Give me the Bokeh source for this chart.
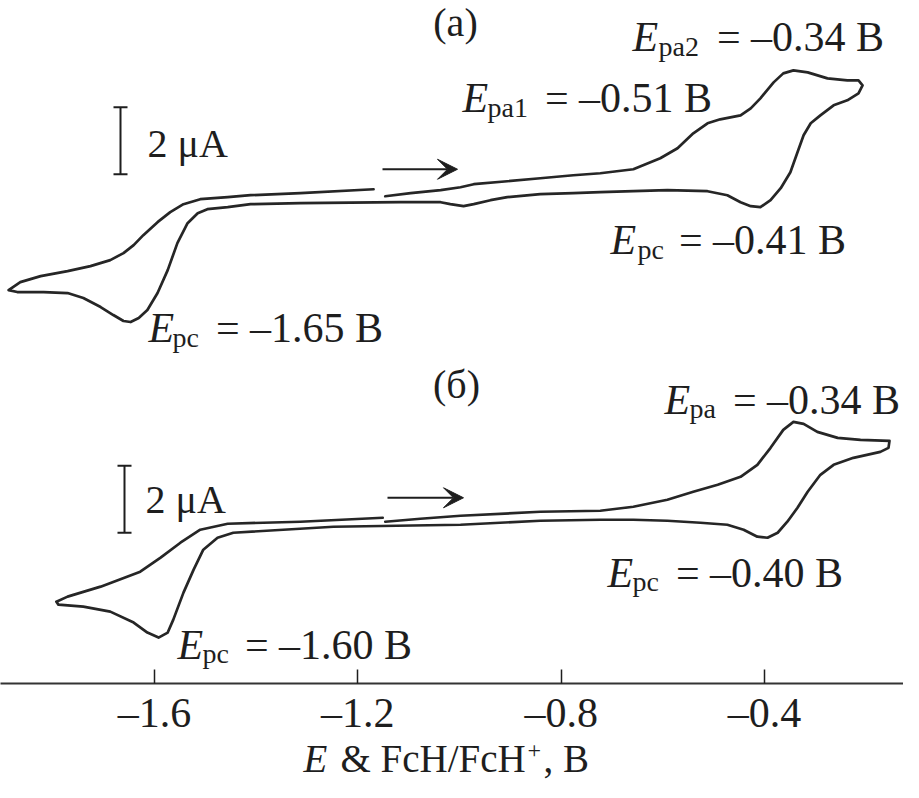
from bokeh.plotting import figure
from bokeh.models import Label, Arrow, VeeHead, FixedTicker, Range1d
from bokeh.layouts import column
from bokeh.embed import file_html
from bokeh.resources import INLINE

# ---------------- data ----------------
# curve (а): potential, V vs FcH/FcH+, and current, µA (relative to its own baseline)
E_A = [-1.146, -1.096, -1.037, -0.998, -0.972, -0.906, -0.841, -0.776, -0.723, -0.658,
       -0.605, -0.571, -0.540, -0.512, -0.487, -0.447, -0.427, -0.408, -0.382, -0.363,
       -0.343, -0.315, -0.276, -0.237, -0.215, -0.207, -0.215, -0.237, -0.264, -0.290,
       -0.309, -0.323, -0.335, -0.349, -0.368, -0.388, -0.408, -0.427, -0.447, -0.473,
       -0.512, -0.591, -0.658, -0.723, -0.776, -0.841, -0.906, -0.939, -0.972, -0.992,
       -1.018, -1.037, -1.116, -1.313, -1.411, -1.456, -1.496, -1.515, -1.535, -1.555,
       -1.574, -1.594, -1.614, -1.631, -1.647, -1.661, -1.681, -1.706, -1.740, -1.771,
       -1.818, -1.870, -1.887, -1.864, -1.824, -1.771, -1.726, -1.687, -1.661, -1.641,
       -1.622, -1.594, -1.569, -1.543, -1.510, -1.456, -1.411, -1.313, -1.169]
I_A = [0.119, 0.209, 0.299, 0.388, 0.478, 0.567, 0.657, 0.746, 0.806, 0.925,
       1.254, 1.552, 2.000, 2.299, 2.418, 2.537, 2.746, 3.045, 3.522, 3.791,
       3.881, 3.821, 3.642, 3.582, 3.582, 3.433, 3.194, 2.985, 2.836, 2.537,
       2.299, 1.940, 1.433, 0.836, 0.358, 0.0, -0.209, -0.179, -0.060, 0.149,
       0.269, 0.299, 0.269, 0.239, 0.209, 0.179, 0.090, 0.0, -0.119, -0.179,
       -0.119, -0.060, -0.060, -0.090, -0.119, -0.209, -0.269, -0.388, -0.687, -1.284,
       -2.090, -2.776, -3.284, -3.522, -3.642, -3.612, -3.433, -3.194, -2.925, -2.776,
       -2.746, -2.746, -2.687, -2.448, -2.269, -2.119, -1.970, -1.791, -1.582, -1.343,
       -1.045, -0.657, -0.358, -0.119, 0.030, 0.090, 0.149, 0.209, 0.328]

# curve (б)
E_B = [-1.146, -1.077, -0.998, -0.841, -0.723, -0.658, -0.591, -0.540, -0.492, -0.447,
       -0.414, -0.388, -0.363, -0.343, -0.323, -0.296, -0.256, -0.211, -0.154, -0.156,
       -0.172, -0.225, -0.264, -0.290, -0.315, -0.335, -0.355, -0.374, -0.394, -0.414,
       -0.441, -0.473, -0.526, -0.591, -0.658, -0.723, -0.841, -0.998, -1.248, -1.445,
       -1.476, -1.504, -1.523, -1.543, -1.563, -1.574, -1.592, -1.614, -1.641, -1.687,
       -1.740, -1.789, -1.793, -1.771, -1.706, -1.628, -1.588, -1.549, -1.510, -1.456,
       -1.313, -1.151]
I_B = [0.090, 0.179, 0.269, 0.388, 0.418, 0.537, 0.746, 0.985, 1.194, 1.433,
       1.791, 2.299, 2.836, 3.075, 3.015, 2.776, 2.597, 2.537, 2.507, 2.299,
       2.179, 2.000, 1.791, 1.493, 0.985, 0.507, 0.090, -0.239, -0.388, -0.358,
       -0.149, 0.0, 0.060, 0.119, 0.149, 0.149, 0.119, 0.0, -0.060, -0.239,
       -0.388, -0.746, -1.343, -2.030, -2.836, -3.224, -3.373, -3.224, -2.925, -2.597,
       -2.448, -2.388, -2.299, -2.149, -1.851, -1.403, -0.985, -0.537, -0.149, 0.030,
       0.090, 0.209]

OFFSET_A = 14.448   # vertical shift of trace (а), µA
OFFSET_B = 4.746    # vertical shift of trace (б), µA
SCALE_UA = 2.0      # scale bar, µA

TICKS = [-1.6, -1.2, -0.8, -0.4]
TICK_LABELS = ["–1.6", "–1.2", "–0.8", "–0.4"]

PEAK_TEXTS = [("pa2", "= –0.34 В"), ("pa1", "= –0.51 В"), ("pc", "= –0.41 В"),
              ("pc", "= –1.65 В"), ("pa", "= –0.34 В"), ("pc", "= –0.40 В"),
              ("pc", "= –1.60 В")]

# ---------------- layout ----------------
FONT = "Liberation Serif"
INK = "#1e1e1e"
W = 903
H_MAIN = 738
H_TITLE = 44
PX_PER_V = 508.3
PX_PER_UA = 33.5
AXIS_PX = 684.0
LABEL_DY = 15   # compensation: labels render this many px below their anchor


def xd(px):
    return -1.6 + (px - 154.0) / PX_PER_V


def yd(py):
    return (AXIS_PX - py) / PX_PER_UA


def yl(py):
    return yd(py - LABEL_DY)


p = figure(width=W, height=H_MAIN, output_backend="svg", toolbar_location=None,
           x_range=Range1d(xd(0), xd(W)), y_range=Range1d(0, yd(0)),
           y_axis_location=None, min_border_left=0, min_border_right=0,
           min_border_top=0, min_border_bottom=int(H_MAIN - AXIS_PX))
p.title = None
p.background_fill_color = "white"
p.border_fill_color = "white"
p.outline_line_color = None
p.xgrid.visible = False
p.ygrid.visible = False

ax = p.xaxis[0]
ax.ticker = FixedTicker(ticks=TICKS)
ax.major_label_overrides = dict(zip(TICKS, TICK_LABELS))
ax.minor_tick_line_color = None
ax.major_tick_in = 14
ax.major_tick_out = 0
ax.major_tick_line_width = 1.5
ax.major_tick_line_color = INK
ax.axis_line_width = 2
ax.axis_line_color = "#333333"
ax.major_label_text_font = FONT
ax.major_label_text_font_size = "42px"
ax.major_label_text_color = INK
ax.major_label_standoff = 6

# curves
p.line(E_A, [i + OFFSET_A for i in I_A], line_color="#262626",
       line_width=2.7, line_join="round", line_cap="round")
p.line(E_B, [i + OFFSET_B for i in I_B], line_color="#262626",
       line_width=2.7, line_join="round", line_cap="round")

# scale bars (2 µA)
for sx, sy_bottom in [(120, 174), (124, 533)]:
    x0 = xd(sx)
    y0 = yd(sy_bottom)
    hw = 7.0 / PX_PER_V
    p.segment(x0=[x0, x0 - hw, x0 - hw], y0=[y0, y0, y0 + SCALE_UA],
              x1=[x0, x0 + hw, x0 + hw], y1=[y0 + SCALE_UA, y0, y0 + SCALE_UA],
              line_color=INK, line_width=2)

# scan direction arrows
for xs, xe, yy in [(382, 457, 169), (387, 463, 498)]:
    p.add_layout(Arrow(end=VeeHead(size=20, fill_color=INK, line_color=INK),
                       x_start=xd(xs), y_start=yd(yy), x_end=xd(xe), y_end=yd(yy),
                       line_color=INK, line_width=2))


def lab(fig, px, y, text, size, style="normal", align="left"):
    fig.add_layout(Label(x=xd(px), y=y, text=text, text_font=FONT,
                         text_font_size=size, text_font_style=style,
                         text_color=INK, text_align=align,
                         text_baseline="alphabetic"))


# panel letters and scale texts
lab(p, 455, yl(37), "(а)", "40px", align="center")
lab(p, 456, yl(400), "(б)", "40px", align="center")
lab(p, 147, yl(158), "2 μA", "40px")
lab(p, 145, yl(515), "2 μA", "40px")

# peak annotations: (E left px, baseline px, sub left px, rest centre px)
PEAK_POS = [(632, 52, 658, 800), (462, 113, 487, 628), (610, 255, 637, 762),
            (148, 343, 172, 299), (664, 415, 689, 816), (607, 588, 632, 759),
            (177, 660, 202, 328)]
for (ex, by, subx, rc), (sub, rest) in zip(PEAK_POS, PEAK_TEXTS):
    lab(p, ex, yl(by), "E", "42px", style="italic")
    lab(p, subx, yl(by + 9), sub, "28px")
    lab(p, rc, yl(by), rest, "42px", align="center")

# axis title strip: E & FcH/FcH+, В
t = figure(width=W, height=H_TITLE, output_backend="svg", toolbar_location=None,
           x_range=p.x_range, y_range=Range1d(0, H_TITLE),
           x_axis_location=None, y_axis_location=None, min_border=0)
t.title = None
t.outline_line_color = None
t.background_fill_color = "white"
t.border_fill_color = "white"
t.grid.visible = False
TOTAL_H = H_MAIN + H_TITLE
base = TOTAL_H - 773 + LABEL_DY
lab(t, 303, base, "E", "39px", style="italic")
lab(t, 340, base, "& FcH/FcH", "39px")
lab(t, 527, base + 8, "+", "24px")
lab(t, 543, base, ", В", "39px")

layout = column(p, t, spacing=0)
open("out.html", "w").write(file_html(layout, INLINE))
